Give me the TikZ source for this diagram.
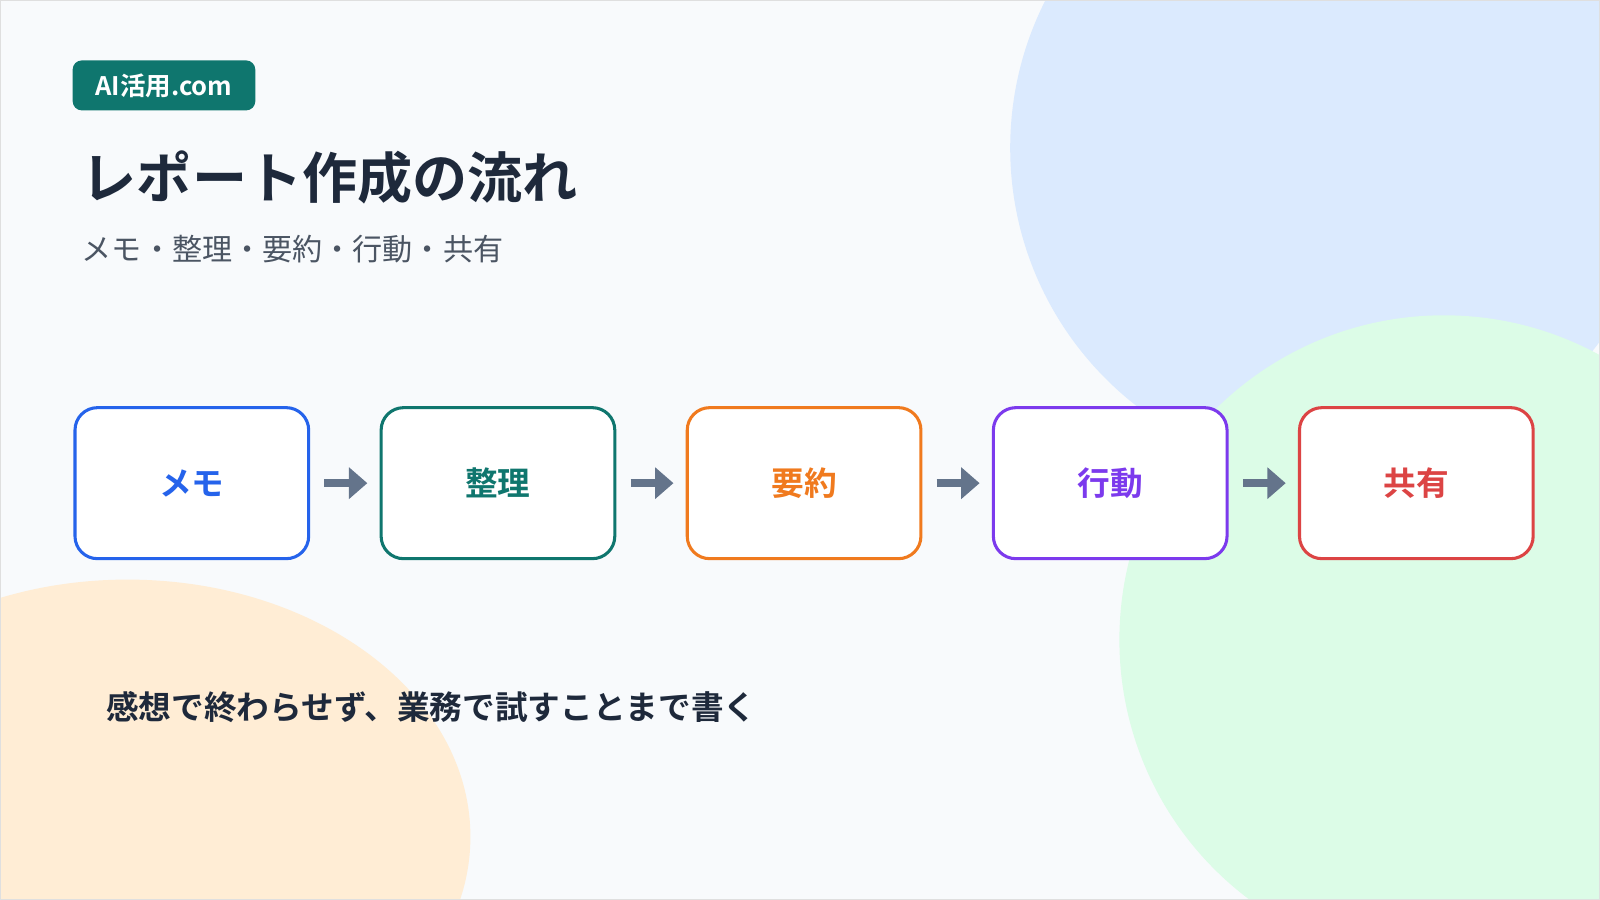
\documentclass[tikz,border=0pt]{standalone}
\usepackage{fontspec}
\setmainfont{Noto Sans CJK JP}[BoldFont={Noto Sans CJK JP Bold}]
\usetikzlibrary{arrows.meta}
\definecolor{bg}{HTML}{F8FAFC}
\definecolor{cb}{HTML}{DBEAFE}
\definecolor{cg}{HTML}{DCFCE7}
\definecolor{co}{HTML}{FFEDD5}
\definecolor{teal}{HTML}{0F766E}
\definecolor{c1}{HTML}{2563EB}
\definecolor{c2}{HTML}{0F766E}
\definecolor{c3}{HTML}{F07A1E}
\definecolor{c4}{HTML}{7C3AED}
\definecolor{c5}{HTML}{DC4444}
\definecolor{ink}{HTML}{1E293B}
\definecolor{sub}{HTML}{4B5563}
\definecolor{arr}{HTML}{64748B}
\tikzset{
 step/.style={draw=#1,line width=3pt,fill=white,rounded corners=22pt,minimum width=229pt,minimum height=148pt,text=#1,font=\fontsize{32}{38}\selectfont\bfseries,anchor=north west,inner sep=0pt},
 flow/.style={draw=arr,line width=8pt,-{Triangle[length=18pt,width=30pt]}}
}
\begin{document}
\begin{tikzpicture}[x=1pt,y=-1pt]
\useasboundingbox (0,0) rectangle (1568,882);
\begin{scope}
\clip (0,0) rectangle (1568,882);
\fill[bg] (0,0) rectangle (1568,882);
\fill[cb] (1310,145) circle (320);
\fill[cg] (1415,627) circle (318);
\fill[co] (125,820) ellipse [x radius=336, y radius=252];
\end{scope}
\draw[gray!25,line width=1pt] (0.5,0.5) rectangle (1567.5,881.5);
\node[fill=teal,rounded corners=9pt,minimum width=179pt,minimum height=49pt,text=white,font=\fontsize{25}{30}\selectfont\bfseries,anchor=north west,inner sep=0pt] (badge) at (71,59) {AI活用.com};
\node[anchor=base west,text=ink,font=\fontsize{54}{62}\selectfont\bfseries,inner sep=0pt] (title) at (80,195) {レポート作成の流れ};
\node[anchor=base west,text=sub,font=\fontsize{29.5}{34}\selectfont,inner sep=0pt] (subt) at (80,255) {メモ・整理・要約・行動・共有};
\node[step=c1] (s1) at (72,398) {メモ};
\node[step=c2] (s2) at (372,398) {整理};
\node[step=c3] (s3) at (672,398) {要約};
\node[step=c4] (s4) at (972,398) {行動};
\node[step=c5] (s5) at (1272,398) {共有};
\foreach \a/\b in {s1/s2,s2/s3,s3/s4,s4/s5}
 \draw[flow] ([xshift=14pt]\a.east) -- ([xshift=-12pt]\b.west);
\node[anchor=base west,text=ink,font=\fontsize{32}{38}\selectfont\bfseries,inner sep=0pt] (note) at (104,705) {感想で終わらせず、業務で試すことまで書く};
\end{tikzpicture}
\end{document}
